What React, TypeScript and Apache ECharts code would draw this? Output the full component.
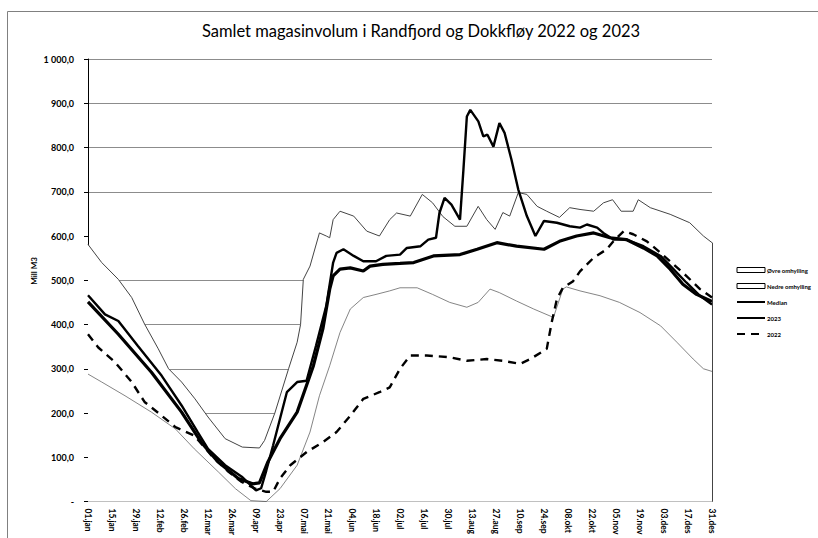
import React, { useEffect, useRef } from "react";
import * as echarts from "echarts";

const TITLE = "Samlet magasinvolum i Randfjord og Dokkfløy 2022 og 2023";
const Y_NAME = "Mill M3";

const xTickLabels = [
  "01.jan", "15.jan", "29.jan", "12.feb", "26.feb", "12.mar", "26.mar", "09.apr", "23.apr",
  "07.mai", "21.mai", "04.jun", "18.jun", "02.jul", "16.jul", "30.jul", "13.aug", "27.aug",
  "10.sep", "24.sep", "08.okt", "22.okt", "05.nov", "19.nov", "03.des", "17.des", "31.des",
];
const yTickLabels = ["-", "100,0", "200,0", "300,0", "400,0", "500,0", "600,0", "700,0", "800,0", "900,0", "1 000,0"];

const seriesNames = ["Øvre omhylling", "Nedre omhylling", "Median", "2023", "2022"];

// Øvre (upper envelope)
const upperDays = [0, 8, 17.7, 25.5, 33, 41, 47, 54.6, 62.4, 70, 80, 90, 100, 103, 109, 117, 122, 124, 125.6, 129.5, 135, 139, 141, 143, 147, 155, 162.6, 170, 176, 180, 188, 195, 201, 207, 214, 221, 227.6, 232.6, 237.5, 242, 246, 251, 256, 262, 267.6, 275, 281, 287, 295, 300.7, 306, 311, 318, 321, 328, 339.6, 351, 359, 364];
const upperVals = [581, 540, 502, 461, 401, 345, 300, 270, 232, 191, 142, 123, 121, 138, 200, 300, 360, 400, 502, 532, 607, 600, 596, 637, 656, 645, 611, 600, 637, 652, 645, 694, 675, 644, 622, 622, 667, 637, 615, 653, 645, 698, 694, 667, 656, 642, 664, 660, 656, 675, 682, 656, 656, 682, 664, 649, 630, 600, 585];

// Nedre (lower envelope)
const lowerDays = [0, 8, 21.6, 37, 51, 62, 76, 86, 95, 104, 112, 122, 129.5, 135, 141, 147, 153, 160.6, 168, 176, 182, 192, 201, 211, 221, 227.6, 234.5, 240, 250, 260, 271.5, 277, 279, 287, 298.7, 310, 322, 334, 343.5, 353, 359, 364];
const lowerVals = [288, 270, 239, 202, 164, 119, 67, 29, 2, 0, 29, 82, 157, 239, 307, 382, 435, 461, 468, 476, 483, 483, 468, 450, 439, 450, 480, 472, 453, 435, 416, 480, 485, 476, 465, 450, 427, 397, 360, 322, 300, 294];

// Median
const medianDays = [0, 17.7, 37, 54.6, 66, 76, 87.7, 96, 100, 105, 112, 122, 131.5, 137, 141, 143, 147, 153, 160.6, 164.5, 172, 182, 190, 201.5, 217, 227, 238.5, 250, 266, 275, 285, 295, 304.5, 314, 324, 332, 339.6, 347, 355, 364];
const medianVals = [451, 378, 292, 202, 134, 89, 52, 40, 42, 90, 142, 202, 307, 390, 480, 510, 525, 528, 521, 532, 536, 538, 540, 555, 558, 570, 585, 577, 570, 588, 600, 607, 596, 592, 573, 555, 525, 491, 468, 452];

// 2023
const y2023Days = [0, 9.9, 17.7, 29, 43, 54.6, 64, 70, 80, 89.7, 98, 101, 104, 108, 116, 122, 127.5, 133, 139, 143, 145, 149, 155, 160.6, 168, 174, 182, 186, 194, 198.5, 203, 205, 208, 212, 217, 219, 221, 223, 227.7, 230.6, 233, 236.5, 240, 243, 247, 251, 256, 261, 266, 273.5, 281, 287, 291, 297, 300.6, 306.5, 314, 324, 334, 341.5, 349, 357, 364];
const y2023Vals = [466, 423, 408, 352, 284, 217, 157, 119, 82, 56, 25, 30, 70, 127, 247, 270, 273, 352, 442, 540, 562, 570, 555, 543, 543, 555, 558, 573, 577, 592, 596, 652, 686, 671, 637, 750, 870, 885, 859, 825, 829, 802, 855, 833, 773, 705, 645, 600, 634, 630, 622, 619, 626, 619, 607, 592, 592, 577, 555, 525, 495, 465, 445];

// 2022
const y2022Days = [0, 6, 15.7, 25.5, 33, 43, 51, 62, 72, 82, 89.7, 97.5, 104, 108, 112, 118, 127.6, 137, 145, 153, 160.6, 170, 176, 182, 188, 197.6, 211, 221, 232.6, 242, 252, 258, 267.6, 270.5, 273.5, 277, 283, 287, 295, 302.6, 306.5, 312.5, 318, 326, 334, 341.5, 349, 357, 364];
const y2022Vals = [378, 348, 315, 270, 225, 194, 168, 149, 104, 67, 44, 29, 22, 22, 52, 82, 112, 134, 157, 194, 232, 247, 258, 300, 330, 330, 326, 318, 322, 318, 311, 322, 345, 405, 457, 483, 498, 520, 551, 570, 588, 611, 604, 588, 562, 536, 510, 480, 461];

const zip = (d: number[], v: number[]) => d.map((x, i) => [x, v[i]]);

export default function App() {
  const ref = useRef<HTMLDivElement>(null);
  useEffect(() => {
    if (!ref.current) return;
    const chart = echarts.init(ref.current, null, { renderer: "svg" });
    const font = "Lato, 'Open Sans', sans-serif";
    const gridColors = yTickLabels.map((_, i) => (i === 6 ? "rgba(0,0,0,0)" : "#8c8c8c"));
    const lastUpperDay = upperDays[upperDays.length - 1];
    const lastUpperVal = upperVals[upperVals.length - 1];
    const hiddenSymbol = { opacity: 0, color: "rgba(0,0,0,0)", borderWidth: 0 };
    chart.setOption({
      animation: false,
      backgroundColor: "#fff",
      title: {
        text: TITLE,
        left: 416,
        textAlign: "center",
        top: 17,
        textStyle: { fontFamily: font, fontSize: 16.5, fontWeight: "normal", color: "#000" },
      },
      legend: {
        orient: "vertical",
        left: 731,
        top: 262,
        itemWidth: 28,
        itemHeight: 5,
        itemGap: 10,
        textStyle: { fontFamily: font, fontSize: 6, fontWeight: "bold", color: "#000", padding: [0, 0, 0, -3] },
        data: [
          { name: seriesNames[0], icon: "rect", itemStyle: { color: "#fff", borderColor: "#000", borderWidth: 1 } },
          { name: seriesNames[1], icon: "rect", itemStyle: { color: "#fff", borderColor: "#000", borderWidth: 1 } },
          { name: seriesNames[2], itemStyle: hiddenSymbol },
          { name: seriesNames[3], itemStyle: hiddenSymbol },
          { name: seriesNames[4], itemStyle: hiddenSymbol },
        ],
      },
      graphic: [
        {
          type: "rect",
          shape: { x: 7.5, y: 11.5, width: 900, height: 700 },
          style: { fill: "none", stroke: "#808080", lineWidth: 1 },
          silent: true,
          z: -10,
        },
        {
          type: "text",
          x: 34,
          y: 271,
          rotation: Math.PI / 2,
          style: {
            text: Y_NAME,
            font: `bold 8px ${font}`,
            fill: "#000",
            textAlign: "center",
            textVerticalAlign: "middle",
          },
        },
      ],
      grid: { left: 88, right: 106, top: 59, bottom: 35, containLabel: false },
      xAxis: {
        type: "value",
        min: 0,
        max: 364,
        interval: 14,
        axisLine: { show: true, onZero: false, lineStyle: { color: "#000", width: 1 } },
        axisTick: { show: false },
        splitLine: { show: false },
        axisLabel: {
          rotate: -90,
          margin: 7,
          fontFamily: font,
          fontSize: 8.5,
          fontWeight: "bold",
          color: "#000",
          formatter: (v: number) => xTickLabels[Math.round(v / 14)] ?? "",
        },
      },
      yAxis: {
        type: "value",
        min: 0,
        max: 1000,
        interval: 100,
        axisLine: { show: true, lineStyle: { color: "#000", width: 1 } },
        axisTick: { show: true, length: 4, lineStyle: { color: "#000" } },
        splitLine: { show: true, lineStyle: { color: gridColors, width: 1 } },
        axisLabel: {
          margin: 14,
          fontFamily: font,
          fontSize: 9,
          fontWeight: "bold",
          color: "#000",
          formatter: (v: number) => yTickLabels[Math.round(v / 100)] ?? "",
        },
      },
      series: [
        {
          name: seriesNames[0],
          type: "line",
          data: zip(upperDays, upperVals),
          symbol: "none",
          itemStyle: { color: "#fff", borderColor: "#000" },
          lineStyle: { color: "#444", width: 1 },
          areaStyle: { color: "#fff", opacity: 1 },
          markLine: {
            silent: true,
            symbol: "none",
            label: { show: false },
            lineStyle: { color: "#444", width: 1, type: "solid" },
            data: [[{ coord: [lastUpperDay, 0] }, { coord: [lastUpperDay, lastUpperVal] }]],
          },
          z: 1,
        },
        {
          name: seriesNames[1],
          type: "line",
          data: zip(lowerDays, lowerVals),
          symbol: "none",
          itemStyle: { color: "#fff", borderColor: "#000" },
          lineStyle: { color: "#666", width: 0.8 },
          areaStyle: { color: "#fff", opacity: 1 },
          z: 2,
        },
        {
          name: seriesNames[2],
          type: "line",
          data: zip(medianDays, medianVals),
          symbol: "none",
          itemStyle: { color: "#000" },
          lineStyle: { color: "#000", width: 3.2 },
          z: 3,
        },
        {
          name: seriesNames[3],
          type: "line",
          data: zip(y2023Days, y2023Vals),
          symbol: "none",
          itemStyle: { color: "#000" },
          lineStyle: { color: "#000", width: 2.4 },
          z: 4,
        },
        {
          name: seriesNames[4],
          type: "line",
          data: zip(y2022Days, y2022Vals),
          symbol: "none",
          itemStyle: { color: "#000" },
          lineStyle: { color: "#000", width: 2.4, type: [8, 6] },
          z: 5,
        },
      ],
    });
    return () => chart.dispose();
  }, []);
  return (
    <div
      ref={ref}
      style={{ position: "fixed", left: 0, top: 0, width: 818, height: 538, background: "#fff", overflow: "hidden" }}
    />
  );
}
